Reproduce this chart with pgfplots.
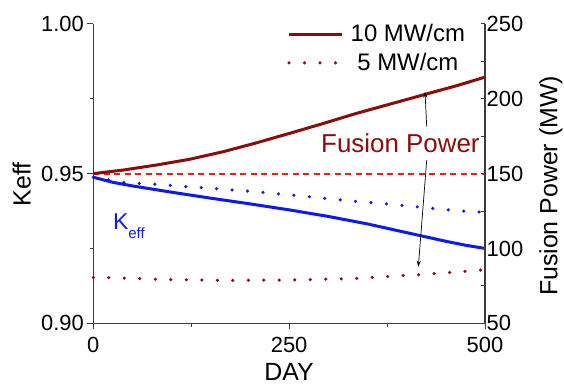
\documentclass[border=0pt]{standalone}
\usepackage{fontspec}
\setmainfont{Liberation Sans}
\usepackage{pgfplots}
\pgfplotsset{compat=1.18}
\usetikzlibrary{arrows.meta}
\definecolor{dred}{RGB}{139,12,12}
\definecolor{lred}{RGB}{230,30,30}
\definecolor{kblue}{RGB}{15,25,235}
\definecolor{axgray}{RGB}{60,60,60}
\begin{document}
\begin{tikzpicture}[x=1bp,y=1bp]
\useasboundingbox (0,0) rectangle (564,385);
\pgfplotsset{
  common/.style={
    scale only axis, width=391.7bp, height=299.3bp,
    at={(93.3bp,61.7bp)}, anchor=south west,
    xmin=0, xmax=500,
    axis line style={axgray, line width=1.2bp},
    tick style={axgray, line width=1bp},
    tick label style={font=\fontsize{22}{22}\selectfont},
    /pgf/number format/assume math mode=true,
    label style={font=\fontsize{25}{25}\selectfont},
    clip=false,
  }
}
\begin{axis}[common,
  axis x line*=bottom, axis y line*=left,
  ymin=0.9, ymax=1.0, ytick={0.9,0.95,1.0}, minor ytick={0.925,0.975},
  xtick={0,250,500}, minor xtick={125,375},
  tick align=outside,
  major tick length=6bp, minor tick length=3.5bp,
  yticklabel style={/pgf/number format/.cd, fixed, fixed zerofill, precision=2},
  xticklabel style={inner ysep=0bp, yshift=-8bp},
  xlabel={DAY}, ylabel={Keff},
  xlabel style={at={(axis description cs:0.5,-0.163)}, anchor=center},
  ylabel style={at={(axis description cs:-0.183,0.465)}, anchor=center},
]
\addplot[draw=lred, line width=2bp, dash pattern=on 6bp off 4.5bp] coordinates {(0,0.95) (500,0.95)};
\addplot[kblue, line width=3bp] coordinates {
(0,0.9488) (25,0.9471) (50,0.9459) (100,0.9438) (150,0.9418) (200,0.9399) (250,0.9379) (300,0.9357) (350,0.9332) (400,0.9303) (450,0.9274) (475,0.9261) (500,0.9250)};
\addplot[kblue, line width=3.5bp, line cap=round, dash pattern=on 0bp off 15.5bp] coordinates {
(0,0.9488) (38,0.9471) (81,0.9464) (123,0.9456) (166,0.9448) (209,0.9439) (251,0.9429) (294,0.9418) (336,0.9407) (379,0.9398) (421,0.9387) (464,0.9376) (500,0.9371)};
\node[kblue, anchor=base west, inner sep=0, font=\fontsize{23}{23}\selectfont] at (axis cs:25,0.9312) {K\raisebox{-9bp}{\fontsize{15}{15}\selectfont eff}};
\end{axis}
\begin{axis}[common,
  axis x line=none, axis y line*=right,
  ymin=50, ymax=250, ytick={50,100,150,200,250}, minor ytick={75,125,175,225},
  tick align=inside,
  major tick length=4bp, minor tick length=4bp,
  yticklabel style={inner ysep=0bp, inner xsep=1.5bp},
  ylabel={Fusion Power (MW)},
  ylabel style={at={(axis description cs:1.168,0.459)}, anchor=center},
  legend style={at={(rel axis cs:0.487,1.012)}, anchor=north west, draw=none, fill=none,
    font=\fontsize{24}{24}\selectfont, row sep=6bp},
  legend cell align=center,
  legend image code/.code={\draw[#1] (0bp,0bp) -- (53bp,0bp); \path (58bp,0bp);},
]
\addplot[dred, line width=3bp] coordinates {
(0,150) (38,152.4) (81,155.8) (123,159.6) (166,164.7) (209,170.7) (251,177) (294,183.6) (336,190.3) (379,196.5) (421,202.6) (464,208.8) (500,214.5)};
\addlegendentry{10 MW/cm}
\addplot[dred, line width=3.5bp, line cap=round, dash pattern=on 0bp off 15.5bp] coordinates {
(0,80.6) (21,80.5) (81,79.4) (166,78.7) (251,78.9) (336,80.0) (421,82.7) (485,85.1) (500,85.8)};
\addlegendentry{5 MW/cm}
\node[dred, anchor=base, font=\fontsize{26}{26}\selectfont] at (axis cs:392,163.8) {Fusion Power};
\draw[-{Stealth[length=6bp,width=4bp]}, line width=0.7bp] (axis cs:425.6,181.4) -- (axis cs:423.4,204.8);
\draw[-{Stealth[length=6bp,width=4bp]}, line width=0.7bp] (axis cs:425.6,159.1) -- (axis cs:414.9,87.8);
\end{axis}
\end{tikzpicture}
\end{document}
